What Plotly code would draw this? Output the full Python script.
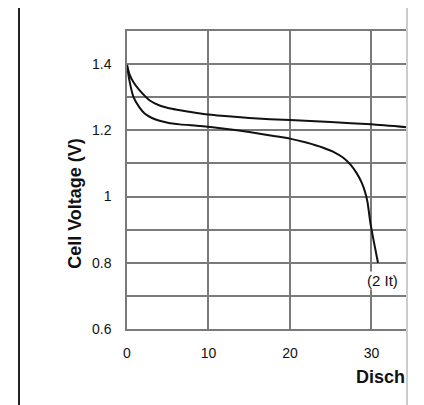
import plotly.graph_objects as go

# Discharge time (h) and cell voltage (V)
upper_x = [0, 0.3, 0.8, 1.5, 2.8, 4, 5.5, 7.7, 9, 12, 15, 20, 25, 30, 34.4]
upper_v = [1.397, 1.37, 1.345, 1.322, 1.29, 1.275, 1.265, 1.256, 1.251, 1.243, 1.237, 1.231, 1.225, 1.218, 1.209]

lower_x = [0, 0.3, 0.8, 1.5, 2.2, 3, 4, 5, 6.5, 9, 12, 15, 18, 20, 22, 24, 25.5, 26.5, 27.4, 28.2, 28.8, 29.2, 29.5, 29.9, 30.4, 30.8]
lower_v = [1.397, 1.35, 1.30, 1.27, 1.25, 1.238, 1.229, 1.223, 1.218, 1.213, 1.205, 1.195, 1.183, 1.175, 1.163, 1.148, 1.133, 1.118, 1.097, 1.07, 1.042, 1.015, 0.985, 0.915, 0.85, 0.80]

x_ticks = [0, 10, 20, 30]
y_grid = [0.6, 0.7, 0.8, 0.9, 1.0, 1.1, 1.2, 1.3, 1.4, 1.5]
y_text = ["0.6", "", "0.8", "", "1", "", "1.2", "", "1.4", ""]

label_text = "(2 It)"
label_x, label_v = 31.4, 0.748

FONT = "Liberation Sans, Arial, sans-serif"
GRID = "#7a7a7a"
TXT = "#111111"

fig = go.Figure()
for xs, vs in [(upper_x, upper_v), (lower_x, lower_v)]:
    fig.add_trace(go.Scatter(x=xs, y=vs, mode="lines",
                             line=dict(color="#111111", width=2, shape="spline", smoothing=0.6),
                             showlegend=False, hoverinfo="skip"))

fig.add_annotation(x=label_x, y=label_v, text=label_text, showarrow=False,
                   font=dict(family=FONT, size=15, color=TXT), bgcolor="white",
                   xanchor="center", yanchor="middle", borderpad=0)

fig.add_annotation(xref="paper", yref="paper", x=-0.186, y=0.423, text="<b>Cell Voltage (V)</b>",
                   textangle=-90, showarrow=False, font=dict(family=FONT, size=18, color=TXT),
                   xanchor="center", yanchor="middle")
fig.add_annotation(xref="paper", yref="paper", x=1.0, y=-0.161, text="<b>Disch</b>",
                   showarrow=False, font=dict(family=FONT, size=18, color=TXT),
                   xanchor="right", yanchor="middle")

# outer frame of the figure panel
fig.add_shape(type="line", xref="paper", yref="paper", x0=-0.3857, x1=-0.3857, y0=1.084, y1=-0.26,
              line=dict(color="#222", width=2))
fig.add_shape(type="line", xref="paper", yref="paper", x0=-0.3857, x1=1.0, y0=1.084, y1=1.084,
              line=dict(color="#bbbbbb", width=2))
fig.add_shape(type="line", xref="paper", yref="paper", x0=1.0, x1=1.0, y0=1.11, y1=-0.26,
              line=dict(color="#cccccc", width=2))

fig.update_layout(
    width=416, height=397,
    margin=dict(l=119, r=17, t=23, b=76),
    paper_bgcolor="white", plot_bgcolor="white",
    font=dict(family=FONT, size=14, color=TXT),
    xaxis=dict(range=[0, 34.36], tickvals=x_ticks, ticktext=[str(v) for v in x_ticks],
               showgrid=True, gridcolor=GRID, gridwidth=1.5, zeroline=False,
               showline=True, linecolor=GRID, linewidth=1.5, mirror=True,
               ticks="outside", ticklen=10, tickcolor="rgba(0,0,0,0)",
               tickfont=dict(family=FONT, size=14, color=TXT)),
    yaxis=dict(range=[0.6, 1.5], tickvals=y_grid, ticktext=y_text,
               showgrid=True, gridcolor=GRID, gridwidth=1.5, zeroline=False,
               showline=True, linecolor=GRID, linewidth=1.5,
               ticks="outside", ticklen=11, tickcolor="rgba(0,0,0,0)",
               tickfont=dict(family=FONT, size=14, color=TXT)),
)

fig.write_html("out.html")
